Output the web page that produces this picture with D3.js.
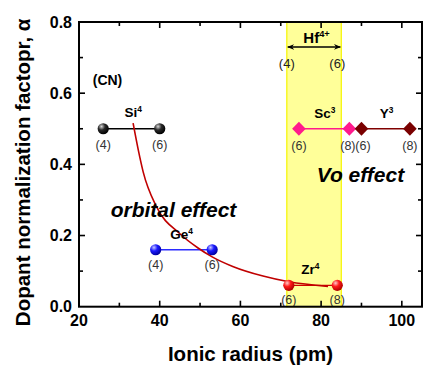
<!DOCTYPE html>
<html>
<head>
<meta charset="utf-8">
<script src="https://cdn.jsdelivr.net/npm/d3@7/dist/d3.min.js"></script>
<style>
  html, body { margin: 0; padding: 0; background: #fff; }
  svg { display: block; font-family: "Liberation Sans", Arial, sans-serif; }
</style>
</head>
<body>
<svg id="chart" width="426" height="370"></svg>
<script>
// Ionic radius (pm) for each dopant / coordination number, with its normalization factor
const siPoints = [{r: 26, a: 0.50, cn: "(4)"}, {r: 40, a: 0.50, cn: "(6)"}];
const gePoints = [{r: 39, a: 0.16, cn: "(4)"}, {r: 53, a: 0.16, cn: "(6)"}];
const zrPoints = [{r: 72, a: 0.06, cn: "(6)"}, {r: 84, a: 0.06, cn: "(8)"}];
const scPoints = [{r: 74.5, a: 0.50, cn: "(6)"}, {r: 87, a: 0.50, cn: "(8)"}];
const yPoints  = [{r: 90, a: 0.50, cn: "(6)"}, {r: 102, a: 0.50, cn: "(8)"}];

// Hf4+ radius range shown as a band, CN 4 to CN 6
const hfRange = [71.5, 85];
const hfLevel = 0.73;

// Trend curve (orbital effect)
const trendR = [33.4, 34.7, 35.9, 39.2, 45.0, 49.5, 53.0, 58.1, 65.6, 72.0, 81.7];
const trendA = [0.516, 0.440, 0.379, 0.281, 0.205, 0.165, 0.140, 0.113, 0.086, 0.070, 0.057];

// Axis ticks
const xTicks = [20, 40, 60, 80, 100];
const xMinor = [30, 50, 70, 90];
const yTicks = [0.0, 0.2, 0.4, 0.6, 0.8];
const yMinor = [0.1, 0.3, 0.5, 0.7];

const svg = d3.select("#chart");
const pLeft = 79, pRight = 422, pTop = 22, pBottom = 306.7;

const x = d3.scaleLinear().domain([20, 105]).range([pLeft, pRight]);
const y = d3.scaleLinear().domain([0, 0.8]).range([pBottom, pTop]);

// Sphere gradients
const defs = svg.append("defs");
function ball(id, hi, mid, lo) {
  const g = defs.append("radialGradient").attr("id", id)
    .attr("cx", "35%").attr("cy", "30%").attr("r", "70%");
  g.append("stop").attr("offset", "0%").attr("stop-color", hi);
  g.append("stop").attr("offset", "45%").attr("stop-color", mid);
  g.append("stop").attr("offset", "100%").attr("stop-color", lo);
}
ball("gBlack", "#d8d8d8", "#2a2a2a", "#000000");
ball("gBlue", "#c8c8ff", "#1a1aff", "#0000a0");
ball("gRed", "#ffc8c8", "#ff1a1a", "#b00000");

const arrow = defs.append("marker").attr("id", "arr")
  .attr("viewBox", "0 0 10 10").attr("refX", 9).attr("refY", 5)
  .attr("markerWidth", 7).attr("markerHeight", 7).attr("orient", "auto-start-reverse")
  .attr("markerUnits", "userSpaceOnUse");
arrow.append("path").attr("d", "M0,1 L10,5 L0,9 L3,5 Z").attr("fill", "#000");

// Hf band
svg.append("rect")
  .attr("x", x(hfRange[0])).attr("y", pTop)
  .attr("width", x(hfRange[1]) - x(hfRange[0])).attr("height", pBottom - pTop)
  .attr("fill", "#ffff99").attr("stroke", "#f5f500").attr("stroke-width", 1.2);

// Hf double arrow
svg.append("line")
  .attr("x1", x(hfRange[0]) + 1).attr("x2", x(hfRange[1]) - 1)
  .attr("y1", y(hfLevel)).attr("y2", y(hfLevel))
  .attr("stroke", "#000").attr("stroke-width", 1.5)
  .attr("marker-start", "url(#arr)").attr("marker-end", "url(#arr)");

// Connecting lines
function link(pts, color) {
  svg.append("line")
    .attr("x1", x(pts[0].r)).attr("y1", y(pts[0].a))
    .attr("x2", x(pts[1].r)).attr("y2", y(pts[1].a))
    .attr("stroke", color).attr("stroke-width", 1.3);
}
link(siPoints, "#000");
link(gePoints, "#2b2bff");
link(zrPoints, "#d00000");
link(scPoints, "#ff1a8c");
link(yPoints, "#800000");

// Trend curve
const trend = trendR.map((r, i) => [r, trendA[i]]);
svg.append("path")
  .attr("d", d3.line().x(d => x(d[0])).y(d => y(d[1])).curve(d3.curveMonotoneX)(trend))
  .attr("fill", "none").attr("stroke", "#c00000").attr("stroke-width", 1.6);

// Markers
function balls(pts, grad) {
  svg.selectAll(null).data(pts).enter().append("circle")
    .attr("cx", d => x(d.r)).attr("cy", d => y(d.a)).attr("r", 5.6)
    .attr("fill", `url(#${grad})`);
}
function diamonds(pts, color) {
  svg.selectAll(null).data(pts).enter().append("path")
    .attr("transform", d => `translate(${x(d.r)},${y(d.a)})`)
    .attr("d", "M0,-7 L6.8,0 L0,7 L-6.8,0 Z")
    .attr("fill", color);
}
balls(siPoints, "gBlack");
balls(gePoints, "gBlue");
balls(zrPoints, "gRed");
diamonds(scPoints, "#ff1a8c");
diamonds(yPoints, "#7a0000");

// Coordination number labels
function cnLabels(pts, dy, shifts) {
  svg.selectAll(null).data(pts).enter().append("text")
    .attr("x", (d, i) => x(d.r) + (shifts ? shifts[i] : 0)).attr("y", d => y(d.a) + dy)
    .attr("text-anchor", "middle").attr("font-size", 12.5)
    .attr("fill", "#333")
    .text(d => d.cn);
}
cnLabels(siPoints, 20);
cnLabels(gePoints, 19);
cnLabels(zrPoints, 18.5);
cnLabels(scPoints, 21, [0, -1.5]);
cnLabels(yPoints, 21, [1.5, 0]);

// Hf CN labels at band edges
svg.append("text").attr("x", x(hfRange[0])).attr("y", y(hfLevel) + 21)
  .attr("text-anchor", "middle").attr("font-size", 13).attr("fill", "#222").text("(4)");
svg.append("text").attr("x", x(hfRange[1]) - 4).attr("y", y(hfLevel) + 21)
  .attr("text-anchor", "middle").attr("font-size", 13).attr("fill", "#222").text("(6)");

// Ion labels with superscript charge
function ion(name, charge, r, a, size) {
  const t = svg.append("text").attr("x", x(r)).attr("y", y(a))
    .attr("font-size", size).attr("font-weight", "bold").attr("fill", "#000");
  t.append("tspan").text(name);
  t.append("tspan").attr("dy", -size * 0.38).attr("font-size", size * 0.62).text(charge);
}
ion("Si", "4", 31.3, 0.533, 13.5);
ion("Ge", "4", 42.6, 0.190, 13.5);
ion("Zr", "4", 75.1, 0.092, 13.5);
ion("Sc", "3", 78.3, 0.530, 13.5);
ion("Y", "3", 94.5, 0.530, 13.5);
ion("Hf", "4+", 75.6, 0.741, 15);

svg.append("text").attr("x", x(23.4)).attr("y", y(0.623))
  .attr("font-size", 14).attr("font-weight", "bold").text("(CN)");

svg.append("text").attr("x", x(27.85)).attr("y", y(0.251))
  .attr("font-size", 21).attr("font-weight", "bold").attr("font-style", "italic")
  .text("orbital effect");
svg.append("text").attr("x", x(78.9)).attr("y", y(0.350))
  .attr("font-size", 21).attr("font-weight", "bold").attr("font-style", "italic")
  .text("Vo effect");

// Frame and ticks
const axisG = svg.append("g");
function ticks(vals, len) {
  vals.forEach(v => {
    axisG.append("line").attr("x1", x(v)).attr("x2", x(v)).attr("y1", pBottom).attr("y2", pBottom - len);
    axisG.append("line").attr("x1", x(v)).attr("x2", x(v)).attr("y1", pTop).attr("y2", pTop + len);
  });
}
function yticks(vals, len) {
  vals.forEach(v => {
    axisG.append("line").attr("y1", y(v)).attr("y2", y(v)).attr("x1", pLeft).attr("x2", pLeft + len);
    axisG.append("line").attr("y1", y(v)).attr("y2", y(v)).attr("x1", pRight).attr("x2", pRight - len);
  });
}
ticks(xTicks, 6); ticks(xMinor, 4);
yticks(yTicks.slice(1, -1), 6); yticks(yMinor, 4);
axisG.selectAll("line").attr("stroke", "#000").attr("stroke-width", 1.6);
svg.append("rect").attr("x", pLeft).attr("y", pTop)
  .attr("width", pRight - pLeft).attr("height", pBottom - pTop)
  .attr("fill", "none").attr("stroke", "#000").attr("stroke-width", 2);

// Tick labels
svg.selectAll(null).data(xTicks).enter().append("text")
  .attr("x", d => x(d)).attr("y", pBottom + 19)
  .attr("text-anchor", "middle").attr("font-size", 16).attr("font-weight", "bold")
  .text(d => d);
svg.selectAll(null).data(yTicks).enter().append("text")
  .attr("x", pLeft - 7).attr("y", d => y(d) + 5.5)
  .attr("text-anchor", "end").attr("font-size", 16).attr("font-weight", "bold")
  .text(d => d3.format(".1f")(d));

// Axis titles
svg.append("text").attr("x", (pLeft + pRight) / 2).attr("y", 361)
  .attr("text-anchor", "middle").attr("font-size", 20.5).attr("font-weight", "bold")
  .text("Ionic radius (pm)");
svg.append("text")
  .attr("transform", `translate(30,${(pTop + pBottom) / 2 + 8}) rotate(-90)`)
  .attr("text-anchor", "middle").attr("font-size", 20.5).attr("font-weight", "bold")
  .text("Dopant normalization factopr, α");
</script>
</body>
</html>
